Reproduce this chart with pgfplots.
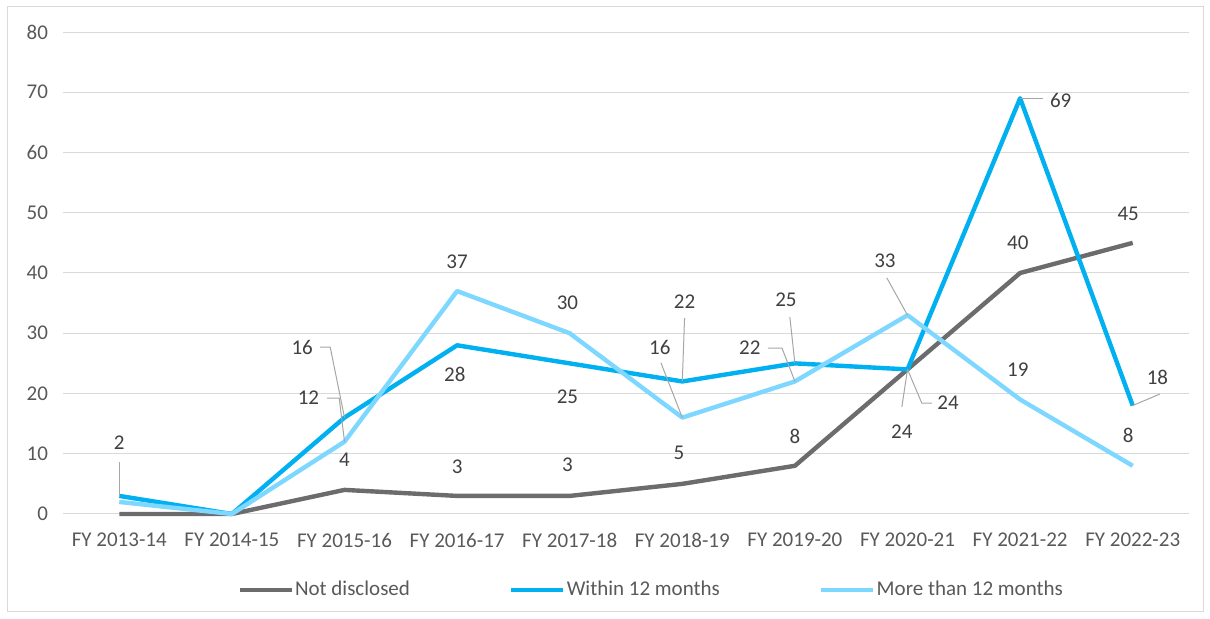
\documentclass[border=0pt]{standalone}
\usepackage{fontspec}
\setmainfont{Carlito}
\usepackage{pgfplots}
\pgfplotsset{compat=1.18}
\definecolor{cgray}{RGB}{108,108,110}
\definecolor{cblue}{RGB}{0,176,240}
\definecolor{clight}{RGB}{125,215,255}
\definecolor{ctick}{RGB}{89,89,89}
\definecolor{clbl}{RGB}{64,64,64}
\definecolor{cgrid}{RGB}{217,217,217}
\definecolor{clead}{RGB}{166,166,166}
\begin{document}
\begin{tikzpicture}[
  lbl/.style={font=\fontsize{10.5}{12}\selectfont, text=clbl, inner sep=0pt, anchor=center},
  lead/.style={draw=clead, line width=0.5pt}]
\useasboundingbox (0,0) rectangle (605pt,309.5pt);
\draw[cgrid, line width=0.5pt] (3.5pt,3.5pt) rectangle (601.5pt,306pt);
\begin{axis}[
  at={(31.5pt,52.5pt)}, anchor=south west,
  scale only axis, width=563pt, height=241pt,
  xmin=-0.5, xmax=9.5, ymin=0, ymax=80,
  xtick={0,1,2,3,4,5,6,7,8,9},
  xticklabels={FY 2013-14,FY 2014-15,FY 2015-16,FY 2016-17,FY 2017-18,FY 2018-19,FY 2019-20,FY 2020-21,FY 2021-22,FY 2022-23},
  ytick={0,10,...,80},
  ymajorgrids, grid style={cgrid, line width=0.5pt},
  axis line style={draw=none},
  axis x line*=bottom,
  x axis line style={draw=cgrid, line width=0.5pt},
  axis y line*=left,
  y axis line style={draw=none},
  major tick length=0pt,
  tick label style={font=\fontsize{10.5}{12}\selectfont, text=ctick},
  xticklabel style={yshift=-6pt},
  yticklabel style={xshift=-4pt},
  /pgf/number format/assume math mode=true,
  clip=false,
  legend style={at={(0.522,-0.158)}, anchor=center, draw=none, fill=none,
    font=\fontsize{10.5}{12}\selectfont, text=ctick,
    legend columns=3,
    /tikz/every even column/.append style={column sep=49pt},
    inner sep=0pt, nodes={inner xsep=0.6pt, inner ysep=1.5pt}},
  legend cell align=left,
  legend image code/.code={\draw[#1, line width=2.2pt] (0pt,0pt) -- (26pt,0pt);},
  every axis plot/.append style={line width=2.2pt, line join=round, mark=none},
]
\addplot[cgray] coordinates {(0,0) (1,0) (2,4) (3,3) (4,3) (5,5) (6,8) (7,24) (8,40) (9,45)};
\addlegendentry{Not disclosed}
\addplot[cblue] coordinates {(0,3) (1,0) (2,16) (3,28) (4,25) (5,22) (6,25) (7,24) (8,69) (9,18)};
\addlegendentry{Within 12 months}
\addplot[clight] coordinates {(0,2) (1,0) (2,12) (3,37) (4,30) (5,16) (6,22) (7,33) (8,19) (9,8)};
\addlegendentry{More than 12 months}

% leader lines
\draw[lead] (axis cs:0,8.6) -- (axis cs:0,2.8);
\draw[lead] (axis cs:1.846,19.25) -- (axis cs:1.953,19.25) -- (axis cs:2,12);
\draw[lead] (axis cs:1.784,27.7) -- (axis cs:1.873,27.7) -- (axis cs:2,16);
\draw[lead] (axis cs:4.81,25.1) -- (axis cs:5,16);
\draw[lead] (axis cs:5.02,32.5) -- (axis cs:5,22);
\draw[lead] (axis cs:5.76,27.55) -- (axis cs:5.885,27.55) -- (axis cs:6,22);
\draw[lead] (axis cs:5.955,32.7) -- (axis cs:6,25);
\draw[lead] (axis cs:6.95,17.8) -- (axis cs:7,24);
\draw[lead] (axis cs:7.216,18.4) -- (axis cs:7.127,18.4) -- (axis cs:7,24);
\draw[lead] (axis cs:6.816,39.2) -- (axis cs:7,33);
\draw[lead] (axis cs:8.2,69) -- (axis cs:8,69);
\draw[lead] (axis cs:9.24,19.9) -- (axis cs:9,18);

% data labels
\node[lbl] at (axis cs:0,11.8) {2};
\node[lbl] at (axis cs:1.68,19.3) {12};
\node[lbl] at (axis cs:1.624,27.7) {16};
\node[lbl] at (axis cs:2,9.0) {4};
\node[lbl] at (axis cs:2.98,23.1) {28};
\node[lbl] at (axis cs:3,7.8) {3};
\node[lbl] at (axis cs:3,41.8) {37};
\node[lbl] at (axis cs:3.98,35.0) {30};
\node[lbl] at (axis cs:3.98,19.4) {25};
\node[lbl] at (axis cs:3.98,8.1) {3};
\node[lbl] at (axis cs:4.8,27.7) {16};
\node[lbl] at (axis cs:5.02,35.2) {22};
\node[lbl] at (axis cs:4.97,10.1) {5};
\node[lbl] at (axis cs:5.6,27.6) {22};
\node[lbl] at (axis cs:5.92,35.5) {25};
\node[lbl] at (axis cs:6,12.9) {8};
\node[lbl] at (axis cs:6.95,13.6) {24};
\node[lbl] at (axis cs:7.36,18.4) {24};
\node[lbl] at (axis cs:6.8,42.0) {33};
\node[lbl] at (axis cs:7.98,45.0) {40};
\node[lbl] at (axis cs:8.36,68.7) {69};
\node[lbl] at (axis cs:7.98,23.9) {19};
\node[lbl] at (axis cs:8.96,49.8) {45};
\node[lbl] at (axis cs:9.22,22.7) {18};
\node[lbl] at (axis cs:8.96,13.1) {8};
\end{axis}
\end{tikzpicture}
\end{document}
